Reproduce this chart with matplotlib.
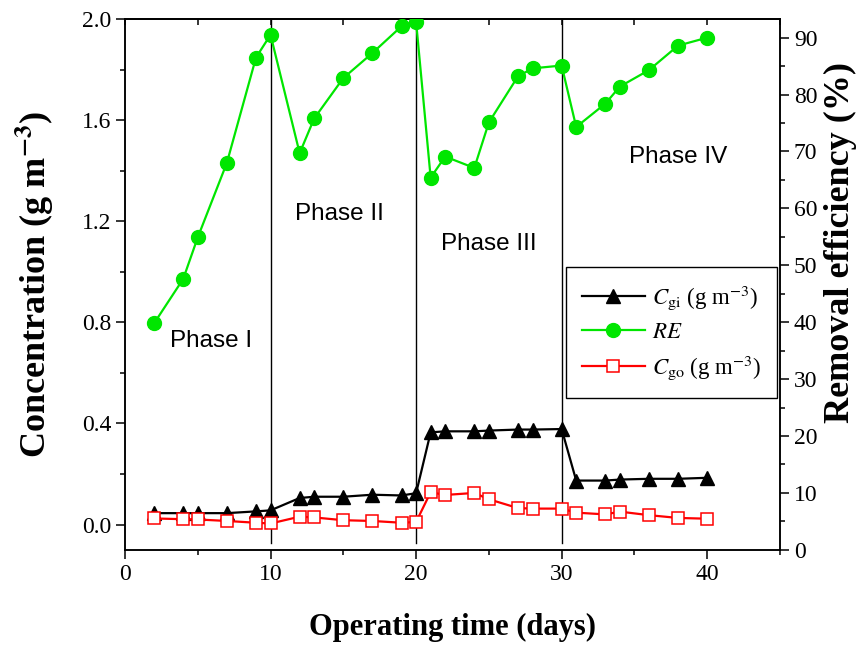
import matplotlib
matplotlib.use("Agg")
import matplotlib.pyplot as plt
from matplotlib.ticker import MultipleLocator, FormatStrFormatter

# operating days (same sampling for all three series)
days = [2, 4, 5, 7, 9, 10, 12, 13, 15, 17, 19, 20, 21, 22, 24, 25, 27, 28, 30,
        31, 33, 34, 36, 38, 40]

# inlet concentration C_gi (g m-3)
c_gi = [0.045, 0.045, 0.045, 0.045, 0.052, 0.056, 0.105, 0.110, 0.110, 0.118,
        0.115, 0.124, 0.365, 0.369, 0.369, 0.372, 0.376, 0.376, 0.378,
        0.174, 0.174, 0.178, 0.181, 0.181, 0.185]

# outlet concentration C_go (g m-3)
c_go = [0.024, 0.021, 0.020, 0.014, 0.007, 0.004, 0.031, 0.028, 0.017, 0.014,
        0.007, 0.010, 0.128, 0.117, 0.125, 0.100, 0.065, 0.063, 0.063,
        0.047, 0.040, 0.051, 0.037, 0.026, 0.023]

# removal efficiency RE (%)
re = [39.8, 47.6, 54.9, 68.0, 86.5, 90.5, 69.7, 75.8, 82.9, 87.3, 92.0, 92.8,
      65.4, 69.1, 67.1, 75.1, 83.2, 84.6, 85.1, 74.3, 78.4, 81.4, 84.3, 88.6,
      90.0]

phase_bounds = [10, 20, 30]
phase_names = ["Phase I", "Phase II", "Phase III", "Phase IV"]
phase_x = [5.9, 14.7, 25.0, 38.0]
phase_y = [0.726, 1.228, 1.109, 1.455]

plt.rcParams["font.family"] = ["Liberation Serif", "DejaVu Serif"]
plt.rcParams["mathtext.fontset"] = "stix"

fig = plt.figure(figsize=(8.65, 6.48), dpi=100)
ax = fig.add_axes([0.1445, 0.1516, 0.7572, 0.8184])
ax2 = ax.twinx()

# phase separators
for xb in phase_bounds:
    ax.plot([xb, xb], [-0.075, 2.0], color="black", lw=1.0, zorder=1)

l1, = ax.plot(days, c_gi, color="black", lw=1.6, marker="^", ms=10,
              label=r"$C_{\rm gi}$ (g m$^{-3}$)", zorder=3)
l3, = ax.plot(days, c_go, color="red", lw=1.6, marker="s", ms=8,
              mfc="white", mec="red", mew=1.1,
              label=r"$C_{\rm go}$ (g m$^{-3}$)", zorder=3)
l2, = ax2.plot(days, re, color="#00e600", lw=1.6, marker="o", ms=10,
               label=r"$RE$", zorder=3)

for name, xp, yp in zip(phase_names, phase_x, phase_y):
    ax.text(xp, yp, name, ha="center", va="center", fontsize=17.5,
            family=["Liberation Sans", "DejaVu Sans"])

ax.set_xlim(0, 45)
ax.set_ylim(-0.1, 2.0)
ax2.set_ylim(0, 93.2)

ax.set_xticks([0, 10, 20, 30, 40])
ax.xaxis.set_minor_locator(MultipleLocator(5))
ax.set_yticks([0.0, 0.4, 0.8, 1.2, 1.6, 2.0])
ax.yaxis.set_minor_locator(MultipleLocator(0.2))
ax.yaxis.set_major_formatter(FormatStrFormatter("%.1f"))
ax2.set_yticks(range(0, 91, 10))
ax2.yaxis.set_minor_locator(MultipleLocator(5))

ax.tick_params(axis="both", which="major", labelsize=17, direction="out",
               length=6.5, width=1.1)
ax.tick_params(axis="both", which="minor", direction="out", length=3.5,
               width=1.1)
ax2.tick_params(axis="y", which="major", labelsize=17, direction="out",
                length=6.5, width=1.1)
ax2.tick_params(axis="y", which="minor", direction="out", length=3.5,
                width=1.1)

# small inward ticks along the top edge
top = ax.secondary_xaxis("top")
top.set_xticks([0, 10, 20, 30, 40])
top.xaxis.set_minor_locator(MultipleLocator(5))
top.tick_params(which="both", direction="in", length=4, width=1.1,
                labeltop=False)
top.spines["top"].set_linewidth(1.1)

for a in (ax, ax2):
    for sp in a.spines.values():
        sp.set_linewidth(1.1)

ax.set_xlabel("Operating time (days)", fontsize=22, fontweight="bold",
              labelpad=20)
ax.set_ylabel(r"Concentration (g m$^{\mathbf{-3}}$)", fontsize=26,
              fontweight="bold")
ax.yaxis.set_label_coords(-0.105, 0.5)
ax2.set_ylabel("Removal efficiency (%)", fontsize=26, fontweight="bold")
ax2.yaxis.set_label_coords(1.067, 0.58)

leg = ax2.legend(handles=[l1, l2, l3], loc="upper left",
                 bbox_to_anchor=(0.673, 0.533),
                 fontsize=16.5, frameon=True, fancybox=False, framealpha=1,
                 edgecolor="black", handlelength=2.75, handletextpad=0.3,
                 labelspacing=0.45, borderpad=0.7, borderaxespad=0)
leg.get_frame().set_linewidth(1.0)

fig.savefig("out.png", dpi=100)
